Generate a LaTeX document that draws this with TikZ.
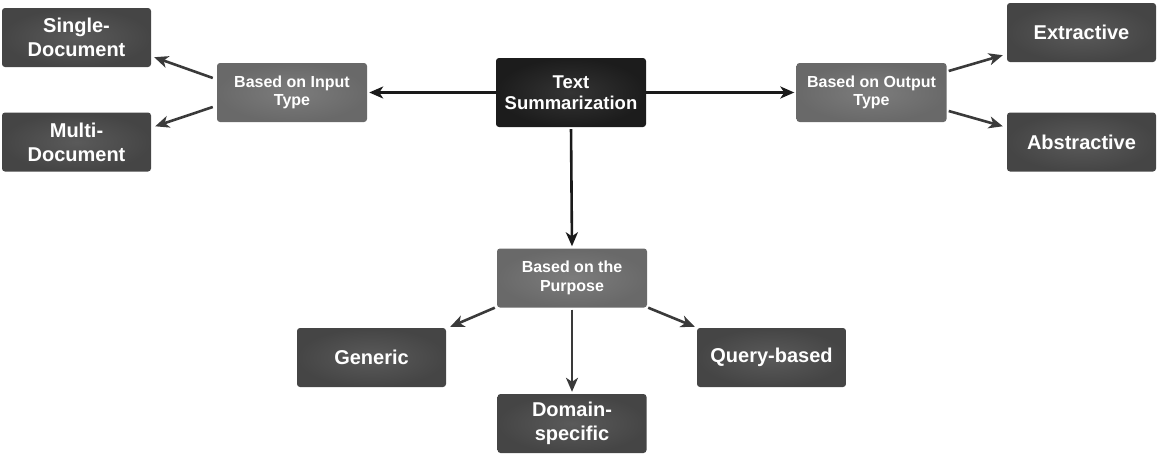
\documentclass[tikz,border=0pt]{standalone}
\usepackage{fontspec}
\setmainfont{Liberation Sans}
\usetikzlibrary{arrows.meta}
\definecolor{darkin}{HTML}{5A5A5A}
\definecolor{darkout}{HTML}{454545}
\definecolor{midin}{HTML}{7C7C7C}
\definecolor{midout}{HTML}{696969}
\definecolor{rootin}{HTML}{343434}
\definecolor{rootout}{HTML}{1C1C1C}
\definecolor{arrmain}{HTML}{1A1A1A}
\definecolor{arrsub}{HTML}{3A3A3A}
\tikzset{
  boxbase/.style={rectangle, rounded corners=3pt, text=white, align=center, inner sep=0pt, font=\bfseries},
  leafbox/.style={boxbase, shading=radial, inner color=darkin, outer color=darkout, minimum width=149, minimum height=59, font=\bfseries\fontsize{20}{24}\selectfont},
  catbox/.style={boxbase, shading=radial, inner color=midin, outer color=midout, minimum width=150, minimum height=59, font=\bfseries\fontsize{16}{18.5}\selectfont},
  rootbox/.style={boxbase, shading=radial, inner color=rootin, outer color=rootout, minimum width=150, minimum height=69, font=\bfseries\fontsize{18.5}{21}\selectfont},
  mainarrow/.style={draw=arrmain, line width=2.6pt, -{Stealth[length=14pt,width=12pt,inset=4pt]}},
  subarrow/.style={draw=arrsub, line width=2.6pt, -{Stealth[length=14pt,width=12pt,inset=4pt]}}
}
\begin{document}
\begin{tikzpicture}[x=1pt,y=-1pt]
\useasboundingbox (0,0) rectangle (1158,455);
\node[leafbox] (single) at (76.5,37.5) {Single-\\Document};
\node[leafbox] (multi) at (76.5,142) {Multi-\\Document};
\node[catbox] (bit) at (292,92.5) {Based on Input\\Type};
\node[rootbox] (ts) at (571,92.5) {Text\\Summarization};
\node[catbox] (boot) at (871.5,92.5) {Based on Output\\Type};
\node[leafbox] (extr) at (1081.5,32.5) {Extractive};
\node[leafbox] (abst) at (1081.5,142) {Abstractive};
\node[catbox] (purp) at (572,278) {Based on the\\Purpose};
\node[leafbox] (gen) at (371.5,357.5) {Generic};
\node[leafbox] (dom) at (572,423.5) {Domain-\\specific};
\node[leafbox] (query) at (771.5,357.5) {Query-based};

\draw[mainarrow, shorten >=2pt] (ts.west) -- (bit.east);
\draw[mainarrow, shorten >=2pt] (ts.east) -- (boot.west);
\draw[mainarrow, shorten >=2pt, shorten <=2pt] (ts.south) -- (purp.north);

\draw[subarrow] ([shift={(-4,-14.5)}]bit.west) -- ([shift={(3,-10)}]single.south east);
\draw[subarrow] ([shift={(-4,14.5)}]bit.west) -- ([shift={(4,14)}]multi.north east);
\draw[subarrow] ([shift={(2,-21.5)}]boot.east) -- ([shift={(-4,-7)}]extr.south west);
\draw[subarrow] ([shift={(2,18.5)}]boot.east) -- ([shift={(-4,14)}]abst.north west);
\draw[subarrow] ([shift={(-2,0)}]purp.south west) -- ([shift={(4,-1)}]gen.north east);
\draw[subarrow, shorten <=2pt, shorten >=2pt] (purp.south) -- (dom.north);
\draw[subarrow] ([shift={(1,0)}]purp.south east) -- ([shift={(-2,-1)}]query.north west);
\end{tikzpicture}
\end{document}
